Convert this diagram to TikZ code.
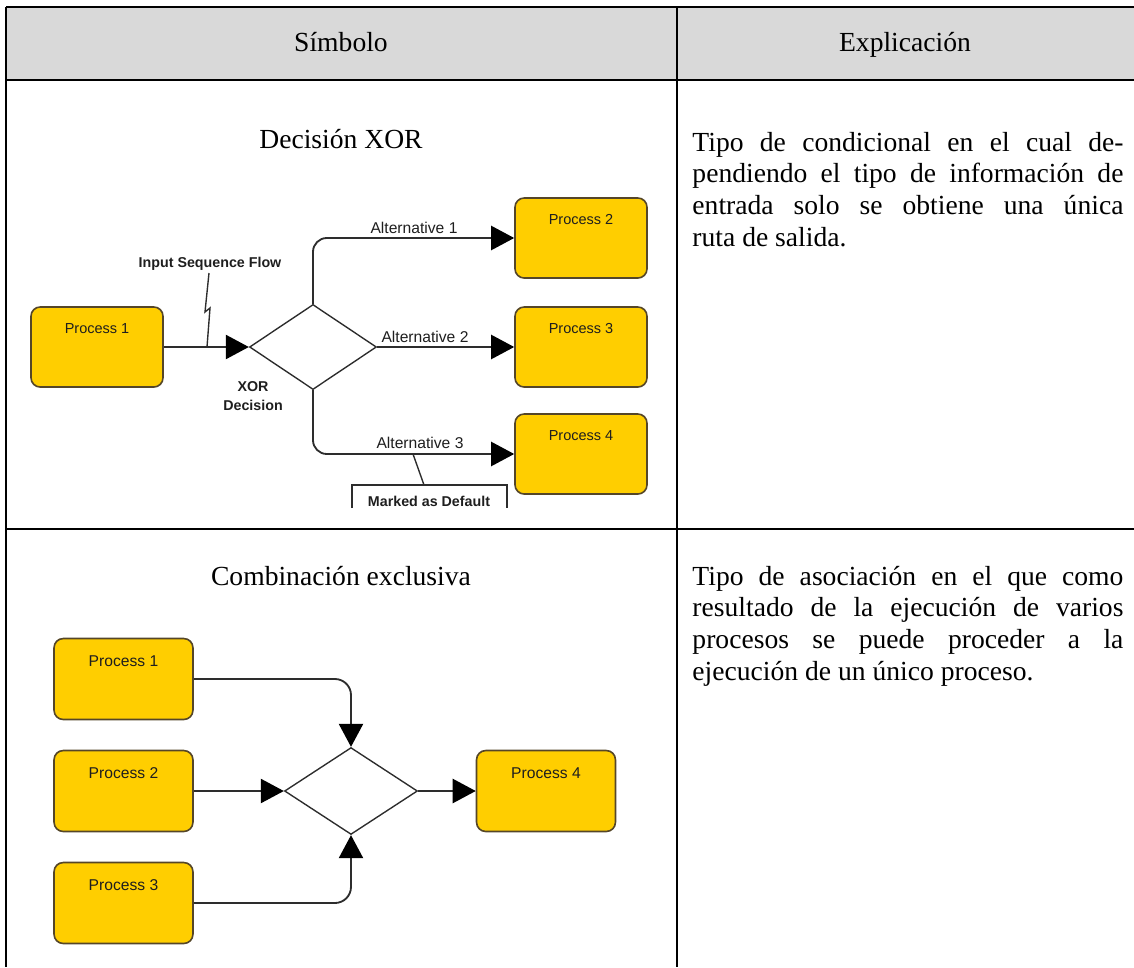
\documentclass[tikz,border=0pt]{standalone}
\usepackage{fontspec}
\setmainfont{Liberation Serif}
\newfontfamily\diagfont{Liberation Sans}
\usetikzlibrary{shapes.geometric,arrows.meta}
\definecolor{procfill}{RGB}{255,206,0}
\definecolor{procline}{RGB}{85,70,40}
\definecolor{flowcol}{RGB}{45,45,45}
\definecolor{headfill}{RGB}{217,217,217}
\definecolor{lblcol}{RGB}{30,30,30}
\newcommand\justline[1]{\makebox[187.4pt][s]{#1}}
\begin{document}
\begin{tikzpicture}[x=0.4348pt,y=-0.4348pt,
  rule/.style={line width=0.9pt, draw=black},
  proc/.style={draw=procline, fill=procfill, rounded corners=4pt, line width=0.7pt, inner sep=0pt, minimum width=57.4pt, minimum height=34.8pt},
  procb/.style={proc, minimum width=60.4pt, minimum height=35.2pt},
  gate/.style={diamond, draw=flowcol, line width=0.6pt, inner sep=0pt},
  flow/.style={draw=flowcol, line width=0.8pt, -{Triangle[length=10pt,width=10.5pt,color=black]}},
  thin/.style={draw=flowcol, line width=0.6pt},
  lbl/.style={font=\diagfont\fontsize{6.3}{7.5}\selectfont, text=lblcol, inner sep=0pt},
  lblr/.style={font=\diagfont\fontsize{6.8}{8}\selectfont, text=lblcol, inner sep=0pt},
  lblb/.style={font=\diagfont\bfseries\fontsize{6.2}{8.3}\selectfont, text=lblcol, inner sep=0pt},
  body/.style={font=\fontsize{12}{13.8}\selectfont, inner sep=0pt, anchor=base west},
  title/.style={font=\fontsize{12}{13.8}\selectfont, inner sep=0pt, anchor=base}]
\useasboundingbox (0,0) rectangle (1134,967);
% table
\fill[headfill] (6,7) rectangle (1134,80);
\draw[rule] (6,7) -- (1134,7);
\draw[rule] (6,80) -- (1134,80);
\draw[rule] (6,529) -- (1134,529);
\draw[rule] (6,7) -- (6,967);
\draw[rule] (677,7) -- (677,967);
% header
\node[title] (h1) at (341,51) {Símbolo};
\node[title] (h2) at (905,51) {Explicación};
% row 1 texts
\node[title] (t1) at (341,148) {Decisión XOR};
\node[body] (e1a) at (692,151) {\justline{Tipo de condicional en el cual de-}};
\node[body] (e1b) at (692,182.7) {\justline{pendiendo el tipo de información de}};
\node[body] (e1c) at (692,214.4) {\justline{entrada solo se obtiene una única}};
\node[body] (e1d) at (692,246.1) {ruta de salida.};
% row 2 texts
\node[title] (t2) at (341,585) {Combinación exclusiva};
\node[body] (e2a) at (692,585) {\justline{Tipo de asociación en el que como}};
\node[body] (e2b) at (692,616.7) {\justline{resultado de la ejecución de varios}};
\node[body] (e2c) at (692,648.4) {\justline{procesos se puede proceder a la}};
\node[body] (e2d) at (692,680.1) {ejecución de un único proceso.};
% diagram 1
\node[proc, label={[lbl, anchor=north, yshift=-7.3pt]north:Process 1}] (p1a) at (97,347) {};
\node[gate, minimum width=55.2pt, minimum height=37pt] (d1) at (313,347) {};
\node[proc, label={[lbl, anchor=north, yshift=-7.3pt]north:Process 2}] (p2a) at (581,238) {};
\node[proc, label={[lbl, anchor=north, yshift=-7.3pt]north:Process 3}] (p3a) at (581,347) {};
\node[proc, label={[lbl, anchor=north, yshift=-7.3pt]north:Process 4}] (p4a) at (581,454) {};
\node[lblb] (isf) at (210,264) {Input Sequence Flow};
\node[lblb, align=center] (xor) at (253,396) {XOR\\Decision};
\node[lblr] (alt1) at (414,228) {Alternative 1};
\node[lblr] (alt2) at (425,337) {Alternative 2};
\node[lblr] (alt3) at (420,443) {Alternative 3};
\draw[flow] (p1a.east) -- (d1.west);
\coordinate (z1) at (209,273);
\coordinate (z2) at (205,312);
\coordinate (z3) at (210,308);
\coordinate (z4) at (207,347);
\draw[thin] (z1) -- (z2) -- (z3) -- (z4);
\draw[flow, rounded corners=6pt] (d1.north) |- (p2a.west);
\draw[flow] (d1.east) -- (p3a.west);
\draw[flow, rounded corners=6pt] (d1.south) |- (p4a.west);
\node[lblb] (mad) at (429,501) {Marked as Default};
\draw[thin, line width=0.7pt] (352,508) -- (352,485) -- (507,485) -- (507,508);
\coordinate (m0) at (413,454);
\coordinate (m1) at (424,485);
\draw[thin] (m0) -- (m1);
% diagram 2
\node[procb, label={[lblr, anchor=north, yshift=-7.5pt]north:Process 1}] (p1b) at (123.5,679) {};
\node[procb, label={[lblr, anchor=north, yshift=-7.5pt]north:Process 2}] (p2b) at (123.5,791) {};
\node[procb, label={[lblr, anchor=north, yshift=-7.5pt]north:Process 3}] (p3b) at (123.5,903) {};
\node[gate, minimum width=57.8pt, minimum height=37.8pt] (d2) at (351,791) {};
\node[procb, label={[lblr, anchor=north, yshift=-7.5pt]north:Process 4}] (p4b) at (546,791) {};
\draw[flow, rounded corners=7pt] (p1b.east) -| (d2.north);
\draw[flow] (p2b.east) -- (d2.west);
\draw[flow, rounded corners=7pt] (p3b.east) -| (d2.south);
\draw[flow] (d2.east) -- (p4b.west);
\end{tikzpicture}
\end{document}
